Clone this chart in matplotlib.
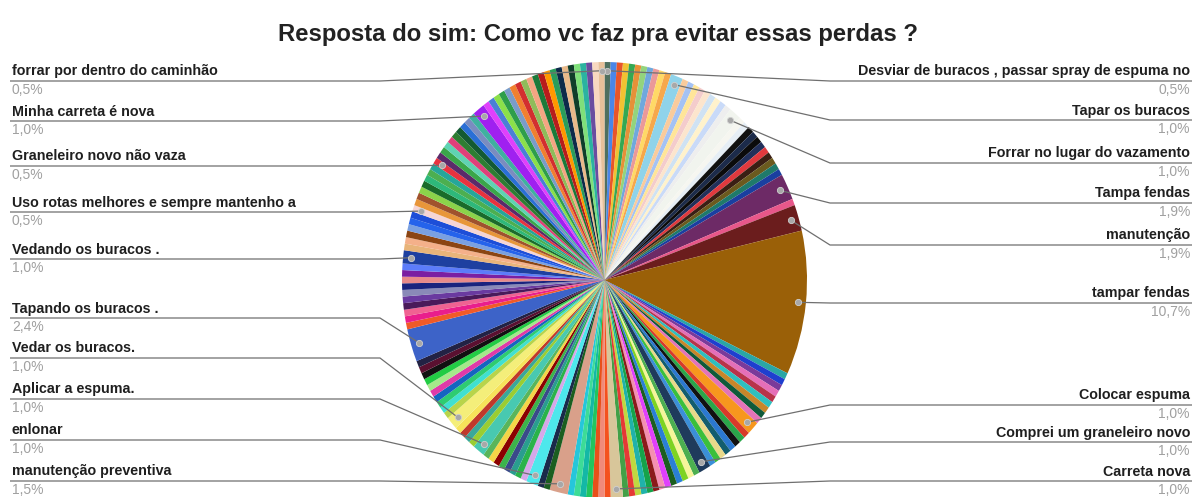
import matplotlib.pyplot as plt
import numpy as np

plt.rcParams['font.family'] = ['Liberation Sans', 'DejaVu Sans']

TITLE = "Resposta do sim: Como vc faz pra evitar essas perdas ?"

# respostas por fatia, sentido horario a partir do topo (206 respostas)
counts = [
    1, 1, 1, 1, 1, 1, 1, 1, 1, 1, 1,
    2, 1, 1, 1, 1, 1, 1, 1, 1, 1,
    2, 1, 1, 1, 1, 1, 1, 1, 1, 1, 1, 1,
    4, 1, 4, 22,
    1, 1, 1, 1, 1, 1, 1, 1, 1,
    2, 1, 1, 1, 1, 1, 1, 1, 1,
    2, 1, 1, 1, 1, 1, 1, 1, 1, 1, 1, 1, 1, 1,
    2, 1, 1, 1, 1, 1, 1, 1,
    3, 1, 1,
    2, 1, 1, 1, 1, 1, 1, 1, 1,
    2, 1, 1, 1, 1,
    2, 1, 1, 1, 1, 1, 1, 1, 1, 1, 1,
    5, 1, 1, 1, 1, 1, 1, 1, 1, 1, 1,
    2, 1, 1, 1, 1, 1, 1,
    1, 1, 1, 1, 1, 1, 1, 1,
    1, 1, 1, 1, 1, 1, 1, 1, 1, 1,
    2, 1, 1, 1, 1, 1, 1, 1, 1, 1, 1, 1, 1, 1, 1, 1, 1, 1, 1, 1, 1,
    1,
]

colors = [
    '#4f6f5f',
    '#4a86e8', '#e8552a', '#f1c232', '#34a853', '#e69138', '#93d47d', '#6fa8dc', '#ea9999', '#ffd966', '#f6a84b',
    '#8fd3ea',
    '#f9cb9c', '#a4c2f4', '#ffe599', '#f4cccc', '#fce5cd', '#cfe2f3', '#fff2cc', '#c9daf8', '#eeeeee',
    '#f1f4ee',
    '#f6f6f0', '#e6eef5', '#111111', '#1c2b4a', '#0b0b0b', '#22305a', '#e0393e', '#3a1f14', '#6b5a1e', '#1f7a6a', '#1a3fa0',
    '#6d2a66', '#e8578a', '#6b1d1d', '#9a6008',
    '#2aa6a6', '#1f3fcf', '#7a3a9a', '#e56fb8', '#b8334a', '#2fbfbf', '#c8862a', '#0f5a3a', '#e374b8',
    '#f7971e',
    '#d83a2a', '#2aa64a', '#111111', '#2b78d0', '#135d6e', '#e9d98a', '#3bbf3b', '#3b8fd8',
    '#1f3b5c',
    '#4caf50', '#f6f59a', '#7ed321', '#2a7fd6', '#1b5e20', '#e040fb', '#f48fb1', '#8b1a1a', '#16a34a', '#20b2aa', '#c0d840', '#e53935', '#43a047',
    '#d8c69a',
    '#f4511e', '#f08a7a', '#e8501a', '#22c55e', '#14b8a6', '#3ddc97', '#26c6da',
    '#d9a08a', '#1b5e20', '#1a2a4a',
    '#4de8ec',
    '#d6a8e8', '#2ab34a', '#2a9d8f', '#3a4a8a', '#3cb44b', '#8b0000', '#f5d547', '#5ab55a',
    '#48c9b0', '#9acd32', '#3aa89a', '#c0392b', '#f7e35a',
    '#f4ee7a',
    '#b8d44a', '#40e0d0', '#2ecc71', '#1565c0', '#e03aa8', '#a5e88a', '#22cc44', '#111111', '#5a1030', '#222244',
    '#3d63c8',
    '#f05a28', '#e91e8c', '#f06292', '#4a1a5a', '#6a3aa0', '#8a8ab8', '#1a237e', '#e88a8a', '#7b1fa2', '#5c7cfa',
    '#1e40a0',
    '#e8b47a', '#f4b08a', '#8b4513', '#7aa0e0', '#2563eb', '#1d4ed8',
    '#f5d5d5',
    '#e8963a', '#a0522d', '#8bd34a', '#1a6b2a', '#2eb87a', '#4caf50', '#26a69a',
    '#e8333f',
    '#5b2a6a', '#3aa64a', '#5fd3b3', '#e0407a', '#2e7d32', '#145a32', '#2a6fd6', '#7a8cc0', '#40b0a0',
    '#a020f0',
    '#e040fb', '#4a7fd6', '#8be04a', '#2e9e4a', '#7a9cc8', '#f08030', '#d32f2f', '#8fbc5a', '#f4a582', '#1b7a3a',
    '#b71c1c', '#ff9800', '#2a9d5a', '#0d2a4a', '#e8b98a', '#0f3d2a', '#7ee07a', '#2bb3a0', '#6a4ca0', '#f8d8c0',
    '#e8c09a',
]
assert len(counts) == len(colors)

# fatias com rotulo (indice na lista acima)
right_idx = [0, 11, 21, 33, 35, 36, 46, 55, 69]
right_text = ["Desviar de buracos , passar spray de espuma no", "Tapar os buracos",
              "Forrar no lugar do vazamento", "Tampa fendas", "manutenção",
              "tampar fendas", "Colocar espuma", "Comprei um graneleiro novo", "Carreta nova"]
left_idx = [162, 141, 131, 123, 116, 105, 94, 89, 80, 77]
left_text = ["forrar por dentro do caminhão", "Minha carreta é nova", "Graneleiro novo não vaza",
             "Uso rotas melhores e sempre mantenho a", "Vedando os buracos .",
             "Tapando os buracos .", "Vedar os buracos.", "Aplicar a espuma.", "enlonar",
             "manutenção preventiva"]

# altura (px) da linha de cada rotulo
right_y = [81, 120, 163, 203, 245, 303, 405, 442, 481]
left_y = [81, 121, 166, 212, 259, 318, 358, 399, 440, 481]

W, H = 1195, 497
cx, cy, rx, ry = 604.5, 280, 202.5, 218

fig = plt.figure(figsize=(W / 100, H / 100), dpi=100)
fig.patch.set_facecolor('white')

ax = fig.add_axes([(cx - rx) / W, (H - cy - ry) / H, 2 * rx / W, 2 * ry / H])
ax.pie(counts, colors=colors, startangle=90, counterclock=False,
       wedgeprops=dict(linewidth=0, antialiased=True))
ax.set_aspect('auto')
ax.set_xlim(-1, 1)
ax.set_ylim(-1, 1)
ax.axis('off')

ov = fig.add_axes([0, 0, 1, 1], zorder=5)
ov.set_xlim(0, W)
ov.set_ylim(H, 0)
ov.axis('off')

total = sum(counts)
edges = np.concatenate([[0], np.cumsum(counts)]) / total * 2 * np.pi


def dot_pos(i):
    a = (edges[i] + edges[i + 1]) / 2
    return cx + 0.96 * rx * np.sin(a), cy - 0.96 * ry * np.cos(a)


def pct(i):
    return f"{100 * counts[i] / total:.1f}".replace('.', ',') + '%'


line_c = '#6f6f6f'
for side, idxs, texts, ys in [('r', right_idx, right_text, right_y),
                              ('l', left_idx, left_text, left_y)]:
    for i, t, y in zip(idxs, texts, ys):
        dx, dy = dot_pos(i)
        if side == 'r':
            elbow, x_end, tx, ha = 830, 1192, 1190, 'right'
        else:
            elbow, x_end, tx, ha = 380, 10, 12, 'left'
        ov.plot([x_end, elbow, dx], [y, y, dy], color=line_c, lw=0.9, solid_capstyle='butt')
        ov.plot(dx, dy, 'o', ms=4.5, color='#a8a8a8', mec='#d0d0d0', mew=0.6)
        ov.text(tx, y - 2.5, t, ha=ha, va='bottom', fontsize=10.3, fontweight='bold', color='#1f1f1f')
        ov.text(tx, y + 2, pct(i), ha=ha, va='top', fontsize=10, color='#a0a0a0')

fig.text(0.5, 1 - 35 / H, TITLE, ha='center', va='center', fontsize=17.2,
         fontweight='bold', color='#222222')

fig.savefig('out.png', dpi=100, facecolor='white')
